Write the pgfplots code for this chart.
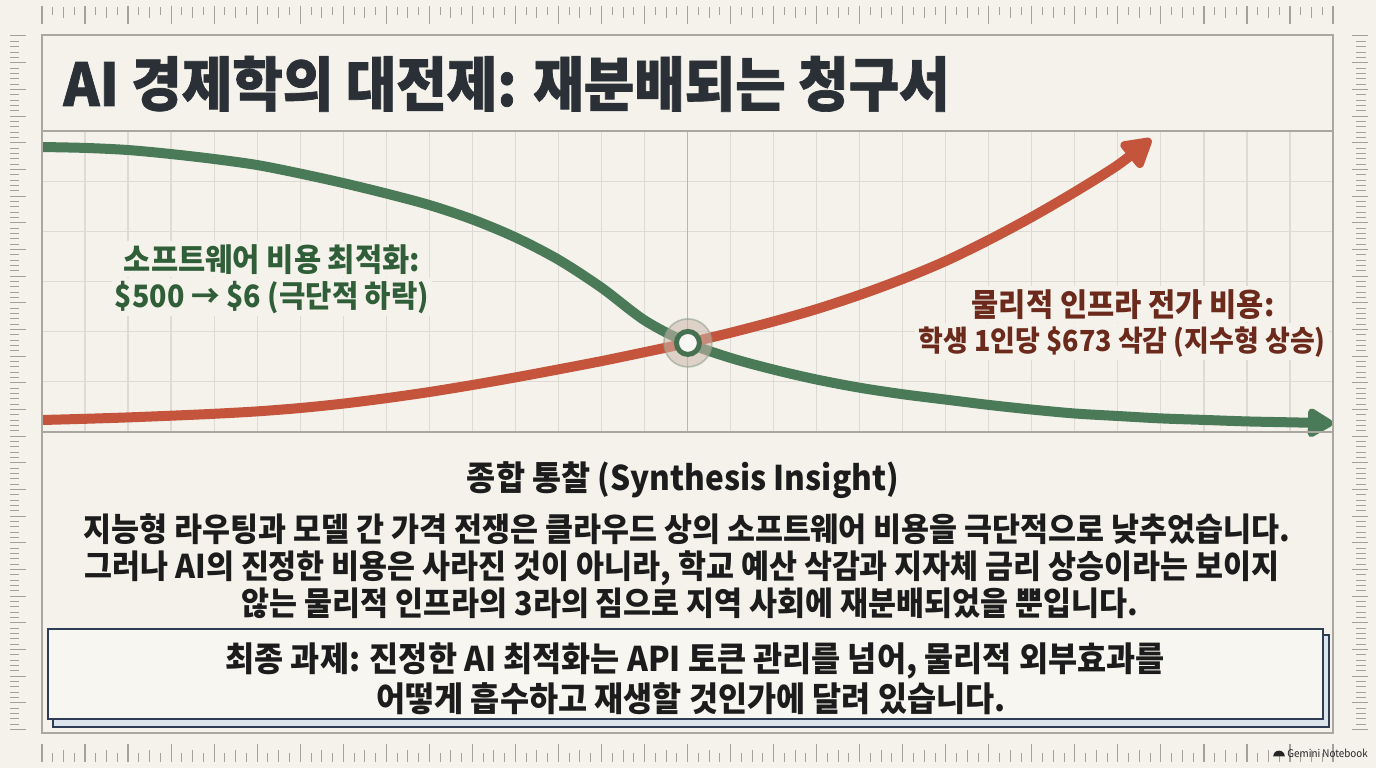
\documentclass[border=0pt]{standalone}
\usepackage{fontspec}
\usepackage{pgfplots}
\pgfplotsset{compat=1.18}
\usetikzlibrary{arrows.meta}
\setmainfont{Noto Sans CJK KR}[FakeStretch=0.93]
\newfontfamily\titlefont{Noto Sans CJK KR}[FakeStretch=0.93, BoldFeatures={FakeBold=1.2}]
\definecolor{paper}{HTML}{F4F2EB}
\definecolor{gridc}{HTML}{DDDBD4}
\definecolor{centerc}{HTML}{B8B6AF}
\definecolor{framec}{HTML}{A9A7A0}
\definecolor{rulerc}{HTML}{A3A19A}
\definecolor{greenl}{HTML}{4A7A58}
\definecolor{redl}{HTML}{C4553C}
\definecolor{greent}{HTML}{2F5E38}
\definecolor{redt}{HTML}{6B2A1C}
\definecolor{titlec}{HTML}{2A3036}
\definecolor{navy}{HTML}{2E3D55}
\definecolor{shadowc}{HTML}{DCE4EE}
\definecolor{haloc}{HTML}{CDB8AC}
\definecolor{haloe}{HTML}{8FA08F}
\definecolor{ringc}{HTML}{46704F}
\definecolor{textc}{HTML}{1C1C1C}

% software cost (green), x = grid column, y = grid row
\pgfplotstableread{
x y
0 5.681
1 5.663
2 5.621
3 5.541
4 5.442
5 5.322
6 5.152
7 4.963
8 4.754
9 4.525
10 4.238
11 3.881
12 3.436
13 2.878
14 2.228
15 1.778
16 1.477
17 1.244
18 1.046
19 0.883
20 0.753
21 0.646
22 0.540
23 0.448
24 0.369
25 0.319
26 0.271
27 0.241
28 0.211
29 0.193
30 0.175
}\softwarecost

% physical infrastructure cost (red)
\pgfplotstableread{
x y
0 0.239
1 0.263
2 0.291
3 0.325
4 0.363
5 0.411
6 0.478
7 0.566
8 0.674
9 0.797
10 0.937
11 1.088
12 1.248
13 1.413
14 1.591
15 1.774
16 1.979
17 2.203
18 2.450
19 2.733
20 3.050
21 3.408
22 3.827
23 4.285
24 4.784
25 5.322
25.77 5.840
}\infracost

\begin{document}
\begin{tikzpicture}
\fill[paper] (0,0) rectangle (688pt,384pt);
\begin{axis}[
  at={(21pt,168pt)}, anchor=south west,
  scale only axis, width=645.5pt, height=150.5pt,
  xmin=0, xmax=30, ymin=0, ymax=6,
  clip=false,
  axis line style={draw=none},
  xtick={0,...,30}, ytick={0,...,6},
  xticklabels={}, yticklabels={},
  major tick length=0pt,
  grid=major,
  major grid style={gridc, line width=0.6pt},
]
\draw[centerc, line width=0.8pt] (axis cs:15,0) -- (axis cs:15,6);
\addplot[greenl, line width=5pt, smooth, -{Triangle[round,length=14.5pt,width=16pt]}] table[x=x,y=y] {\softwarecost};
\addplot[redl, line width=5pt, smooth, -{Triangle[round,length=16.5pt,width=18pt]}] table[x=x,y=y] {\infracost};
\addplot[only marks, mark=*, mark size=12pt, mark options={fill=haloc, fill opacity=0.55, draw=haloe, draw opacity=0.6, line width=0.8pt}] coordinates {(15.01,1.776)};
\addplot[only marks, mark=*, mark size=5.75pt, mark options={fill=paper!60!white, draw=ringc, line width=2.5pt}] coordinates {(15.01,1.776)};
\end{axis}
\begin{scope}[x=0.5pt,y=-0.5pt,shift={(0pt,384pt)}]
% rulers
\foreach \i in {0,...,120}{
  \pgfmathsetmacro{\xx}{42+\i*10.7583}
  \pgfmathtruncatemacro{\ma}{mod(\i,4)}
  \pgfmathtruncatemacro{\mb}{mod(\i,2)}
  \ifnum\ma=0
    \draw[rulerc,line width=0.6pt] (\xx,6) -- (\xx,24);
    \draw[rulerc,line width=0.6pt] (\xx,744) -- (\xx,762);
  \else\ifnum\mb=0
    \draw[rulerc,line width=0.45pt] (\xx,7) -- (\xx,18);
    \draw[rulerc,line width=0.45pt] (\xx,750) -- (\xx,762);
  \else
    \draw[rulerc,line width=0.45pt] (\xx,7) -- (\xx,15);
    \draw[rulerc,line width=0.45pt] (\xx,753) -- (\xx,762);
  \fi\fi
}
\foreach \i in {0,...,130}{
  \pgfmathsetmacro{\yy}{36+\i*5.3333}
  \pgfmathtruncatemacro{\ma}{mod(\i,5)}
  \ifnum\ma=0
    \draw[rulerc,line width=0.5pt] (10,\yy) -- (26,\yy);
    \draw[rulerc,line width=0.5pt] (1352,\yy) -- (1368,\yy);
  \else
    \draw[rulerc,line width=0.4pt] (10,\yy) -- (19,\yy);
    \draw[rulerc,line width=0.4pt] (1356,\yy) -- (1366,\yy);
  \fi
}
% frame
\draw[framec, line width=0.8pt] (42,35) rectangle (1333,733);
\draw[framec, line width=0.8pt] (42,131) -- (1333,131);
\draw[framec, line width=0.9pt] (42,432) -- (1333,432);
% title
\node[anchor=base west, inner sep=0pt, text=titlec, font=\titlefont\fontsize{29.5}{33}\selectfont\bfseries] at (63,106) {AI 경제학의 대전제: 재분배되는 청구서};
% curve labels
\node[anchor=base, fill=paper, inner sep=1.5pt, text=greent, font=\fontsize{15.9}{18}\selectfont\bfseries] at (272,271) {소프트웨어 비용 최적화:};
\node[anchor=base, fill=paper, inner sep=1.5pt, text=greent, font=\fontsize{15.4}{18}\selectfont\bfseries] at (272,307) {\$500 → \$6 (극단적 하락)};
\node[anchor=base, fill=paper, inner sep=1.5pt, text=redt, font=\fontsize{15.9}{18}\selectfont\bfseries] at (1123,316) {물리적 인프라 전가 비용:};
\node[anchor=base, fill=paper, inner sep=1.5pt, text=redt, font=\fontsize{14.5}{18}\selectfont\bfseries] at (1122,351) {학생 1인당 \$673 삭감 (지수형 상승)};
% synthesis
\node[anchor=base, inner sep=0pt, text=textc, font=\fontsize{17}{20}\selectfont\bfseries] at (683,490) {종합 통찰 (Synthesis Insight)};
\node[anchor=base, inner sep=0pt, text=textc, font=\fontsize{16.35}{19}\selectfont\bfseries] at (687,541) {지능형 라우팅과 모델 간 가격 전쟁은 클라우드 상의 소프트웨어 비용을 극단적으로 낮추었습니다.};
\node[anchor=base, inner sep=0pt, text=textc, font=\fontsize{16.35}{19}\selectfont\bfseries] at (682,578) {그러나 AI의 진정한 비용은 사라진 것이 아니라, 학교 예산 삭감과 지자체 금리 상승이라는 보이지};
\node[anchor=base, inner sep=0pt, text=textc, font=\fontsize{16.35}{19}\selectfont\bfseries] at (690,615) {않는 물리적 인프라의 3라의 짐으로 지역 사회에 재분배되었을 뿐입니다.};
% box
\draw[navy, line width=1.2pt, fill=shadowc] (53,635) rectangle (1329,727);
\draw[navy, line width=1.2pt, fill=paper!70!white] (48,629) rectangle (1323,719);
\node[anchor=base, inner sep=0pt, text=textc, font=\fontsize{17}{20}\selectfont\bfseries] at (695,671) {최종 과제: 진정한 AI 최적화는 API 토큰 관리를 넘어, 물리적 외부효과를};
\node[anchor=base, inner sep=0pt, text=textc, font=\fontsize{17}{20}\selectfont\bfseries] at (691,711) {어떻게 흡수하고 재생할 것인가에 달려 있습니다.};
% watermark
\node[anchor=base west, inner sep=0pt, text=black!85, font=\fontsize{5.3}{7}\selectfont] at (1287,757) {Gemini Notebook};
\end{scope}
\fill[black!85] (636.6pt,5.8pt) arc[start angle=180, end angle=0, radius=2.9pt] -- cycle;
\end{tikzpicture}
\end{document}
